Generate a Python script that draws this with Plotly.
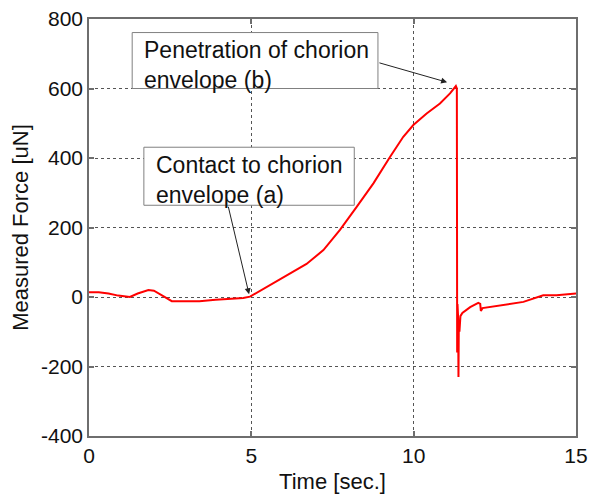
import plotly.graph_objects as go

time_s = [0, 0.3, 0.6, 0.9, 1.26, 1.5, 1.83, 2.0, 2.3, 2.55, 3.0, 3.4, 3.9, 4.5, 4.75, 4.96,
          5.68, 6.29, 6.7, 7.22, 7.73, 8.25, 8.76, 9.27, 9.68, 9.99, 10.4, 10.81, 11.12, 11.30,
          11.33, 11.34, 11.35, 11.36, 11.37, 11.38, 11.39, 11.41, 11.44, 11.5, 11.74, 11.99,
          12.05, 12.07, 12.12, 12.4, 12.88, 13.38, 13.99, 14.4, 15.0]
force_uN = [14, 14, 10, 4, 0, 10, 20, 18, 2, -12, -12, -12, -8, -5, -3, 1,
            39, 73, 95, 135, 193, 260, 327, 403, 461, 495, 528, 557, 586, 607,
            600, -160, -20, -120, -60, -230, -80, -100, -55, -46, -29, -17,
            -20, -40, -32, -28, -23, -14, 5, 5, 10]

x_ticks = [0, 5, 10, 15]
y_ticks = [-400, -200, 0, 200, 400, 600, 800]

label_b = "Penetration of chorion<br>envelope (b)"
label_a = "Contact to chorion<br>envelope (a)"

FONT = "Liberation Sans"
AX = "#6e6e6e"
GRID = "#555555"
TXT = "#111111"

fig = go.Figure()
fig.add_trace(go.Scatter(x=time_s, y=force_uN, mode="lines",
                         line=dict(color="#ff0000", width=2), showlegend=False))

axis_common = dict(showline=True, linecolor=AX, linewidth=1.5, mirror="ticks",
                   ticks="inside", ticklen=5, tickcolor=AX, tickwidth=1.5,
                   showgrid=True, gridcolor=GRID, griddash="dot", gridwidth=1,
                   zeroline=False, automargin=False,
                   tickfont=dict(family=FONT, size=21, color=TXT))

fig.update_xaxes(range=[0, 15], tickvals=x_ticks, ticktext=[str(v) for v in x_ticks],
                 title=dict(text="Time [sec.]", font=dict(family=FONT, size=22, color=TXT),
                            standoff=8), **axis_common)
fig.update_yaxes(range=[-400, 800], tickvals=y_ticks, ticktext=[str(v) for v in y_ticks],
                 title=dict(text="Measured Force [uN]", font=dict(family=FONT, size=22, color=TXT),
                            standoff=6), **axis_common)

# text boxes
fig.add_shape(type="rect", xref="x", yref="y", x0=1.33, x1=8.9, y0=600, y1=761,
              line=dict(color="#808080", width=1), fillcolor="white", layer="above")
fig.add_shape(type="rect", xref="x", yref="y", x0=1.69, x1=8.17, y0=264, y1=431,
              line=dict(color="#808080", width=1), fillcolor="white", layer="above")

fig.add_annotation(x=1.62, y=754, xref="x", yref="y", text=label_b, showarrow=False,
                   xanchor="left", yanchor="top", align="left",
                   font=dict(family=FONT, size=23, color=TXT))
fig.add_annotation(x=2.0, y=424, xref="x", yref="y", text=label_a, showarrow=False,
                   xanchor="left", yanchor="top", align="left",
                   font=dict(family=FONT, size=23, color=TXT))

# arrows
fig.add_annotation(x=11.03, y=618, ax=8.9, ay=675, xref="x", yref="y", axref="x", ayref="y",
                   text="", showarrow=True, arrowhead=2, arrowsize=1.2, arrowwidth=1,
                   arrowcolor="#222", standoff=0)
fig.add_annotation(x=4.93, y=8, ax=4.28, ay=264, xref="x", yref="y", axref="x", ayref="y",
                   text="", showarrow=True, arrowhead=2, arrowsize=1.2, arrowwidth=1,
                   arrowcolor="#222", standoff=0)

fig.update_layout(width=589, height=496, margin=dict(l=89, r=13, t=19, b=60),
                  plot_bgcolor="white", paper_bgcolor="white",
                  font=dict(family=FONT))

fig.write_html("out.html")
